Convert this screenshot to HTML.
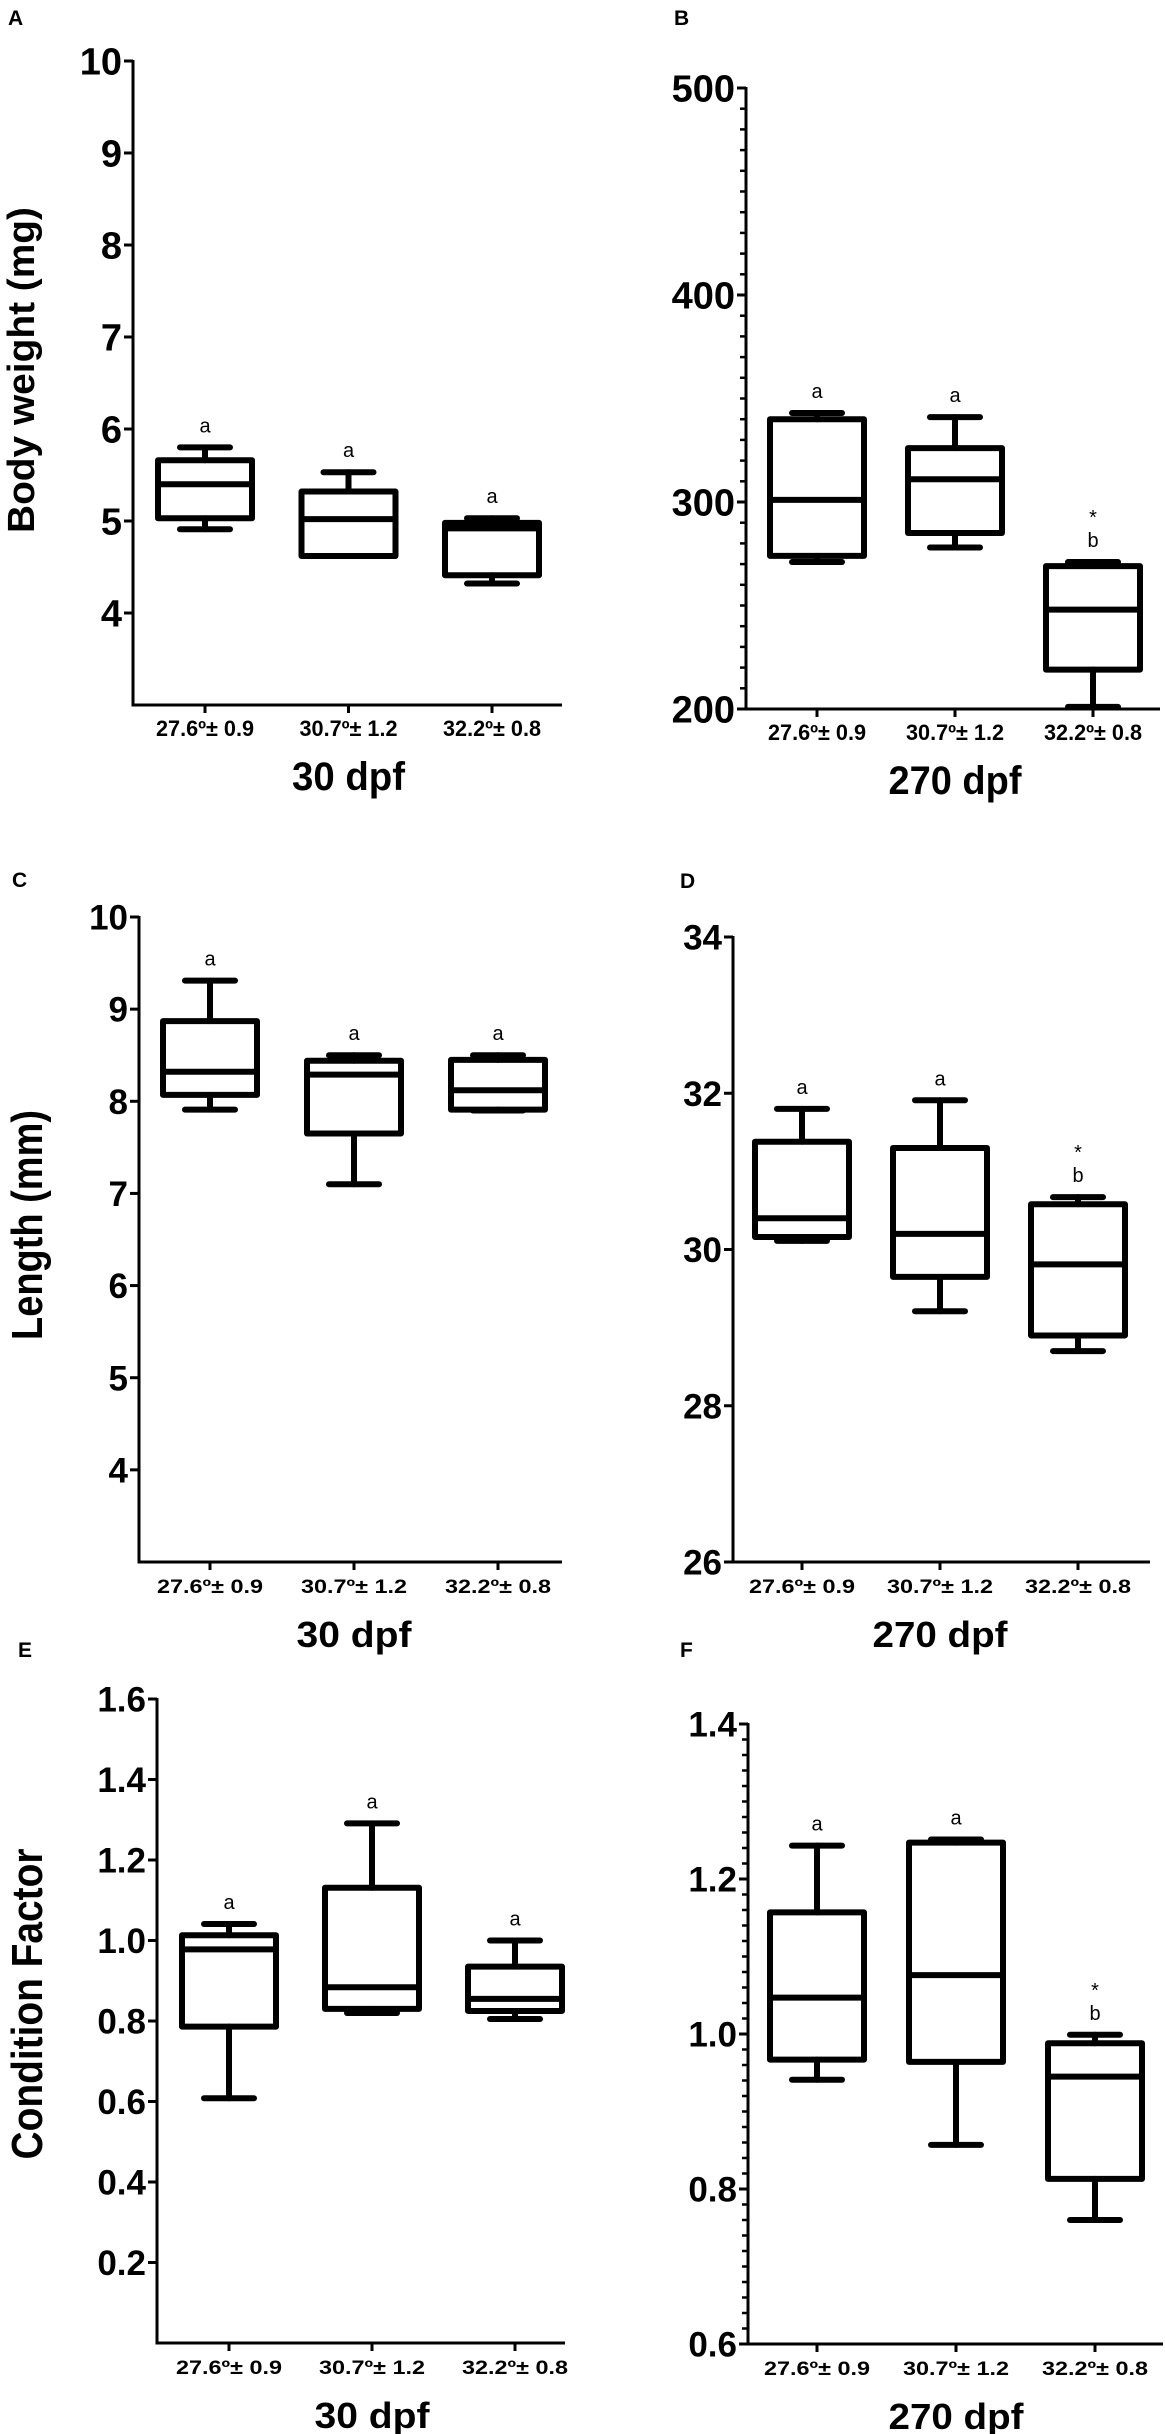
<!DOCTYPE html>
<html><head><meta charset="utf-8"><title>Box plots</title>
<style>
html,body{margin:0;padding:0;background:#fff;}
svg{display:block;}
text{font-family:"Liberation Sans",Arial,sans-serif;fill:#000;}
.narrow{font-family:"Liberation Sans Narrow","Liberation Sans",Arial,sans-serif;}
</style></head>
<body>
<svg id="fig" width="1165" height="2434" viewBox="0 0 1165 2434" xmlns="http://www.w3.org/2000/svg"></svg>
<script>
// ---- shared ----
const categories = ["27.6º± 0.9", "30.7º± 1.2", "32.2º± 0.8"];

// ---- Panel A: body weight 30 dpf ----
const A_max = [5.80, 5.53, 5.03];
const A_q3  = [5.66, 5.32, 4.98];
const A_med = [5.40, 5.02, 4.92];
const A_q1  = [5.03, 4.62, 4.41];
const A_min = [4.91, 4.62, 4.32];
const A_marks = ["a", "a", "a"];
const A_ticks = [4, 5, 6, 7, 8, 9, 10];

// ---- Panel B: body weight 270 dpf ----
const B_max = [343, 341, 271];
const B_q3  = [340, 326, 269];
const B_med = [301, 311, 248];
const B_q1  = [274, 285, 219];
const B_min = [271, 278, 201];
const B_marks = ["a", "a", "b*"];
const B_ticks = [200, 300, 400, 500];

// ---- Panel C: length 30 dpf ----
const C_max = [9.31, 8.50, 8.50];
const C_q3  = [8.87, 8.44, 8.45];
const C_med = [8.32, 8.29, 8.12];
const C_q1  = [8.07, 7.65, 7.91];
const C_min = [7.91, 7.10, 7.90];
const C_marks = ["a", "a", "a"];
const C_ticks = [4, 5, 6, 7, 8, 9, 10];

// ---- Panel D: length 270 dpf ----
const D_max = [31.80, 31.91, 30.67];
const D_q3  = [31.38, 31.30, 30.58];
const D_med = [30.40, 30.20, 29.81];
const D_q1  = [30.16, 29.65, 28.90];
const D_min = [30.11, 29.21, 28.70];
const D_marks = ["a", "a", "b*"];
const D_ticks = [26, 28, 30, 32, 34];

// ---- Panel E: condition factor 30 dpf ----
const E_max = [1.041, 1.291, 1.000];
const E_q3  = [1.013, 1.131, 0.935];
const E_med = [0.978, 0.884, 0.855];
const E_q1  = [0.786, 0.830, 0.825];
const E_min = [0.608, 0.820, 0.805];
const E_marks = ["a", "a", "a"];
const E_ticks = [0.2, 0.4, 0.6, 0.8, 1.0, 1.2, 1.4, 1.6];
const E_tickLabels = ["0.2", "0.4", "0.6", "0.8", "1.0", "1.2", "1.4", "1.6"];

// ---- Panel F: condition factor 270 dpf ----
const F_max = [1.243, 1.251, 0.999];
const F_q3  = [1.157, 1.247, 0.988];
const F_med = [1.047, 1.076, 0.945];
const F_q1  = [0.967, 0.964, 0.813];
const F_min = [0.941, 0.857, 0.760];
const F_marks = ["a", "a", "b*"];
const F_ticks = [0.6, 0.8, 1.0, 1.2, 1.4];
const F_tickLabels = ["0.6", "0.8", "1.0", "1.2", "1.4"];

const NS = "http://www.w3.org/2000/svg";
const svg = document.getElementById("fig");
function mk(tag, attrs, parent, txt) {
  const e = document.createElementNS(NS, tag);
  for (const k in attrs) e.setAttribute(k, attrs[k]);
  if (txt !== undefined) e.textContent = txt;
  (parent || svg).appendChild(e);
  return e;
}

function panel(cfg) {
  const g = mk("g", {});
  
  
  const y = v => cfg.yTop + (cfg.vTop - v) / (cfg.vTop - cfg.vBot) * (cfg.yBot - cfg.yTop);
  const x = i => cfg.ax + cfg.x0 + i * cfg.dx;
  const cls = cfg.narrow ? "narrow" : "";
  const L = mk("text", {x: cfg.letterX, y: cfg.letterY, "font-size": 21, "font-weight": "bold"}, g, cfg.letter);
  
  
  const ya = mk("line", {x1: cfg.ax, y1: y(cfg.vTop) - 1, x2: cfg.ax, y2: cfg.yBot + 1.5, stroke: "#000", "stroke-width": 3}, g);
  
  
  const xa = mk("line", {x1: cfg.ax - 1.5, y1: cfg.yBot, x2: cfg.xEnd, y2: cfg.yBot, stroke: "#000", "stroke-width": 3}, g);
  
  
  if (cfg.minor) {
    const n = Math.round((cfg.vTop - cfg.vBot) / cfg.minor);
    for (let k = 0; k <= n; k++) {
      const v = cfg.vBot + k * cfg.minor;
      const mt = mk("line", {x1: cfg.ax - 6, y1: y(v), x2: cfg.ax, y2: y(v), stroke: "#000", "stroke-width": 2.5}, g);
      
      
    }
  }
  cfg.ticks.forEach((v, i) => {
    const t = mk("line", {x1: cfg.ax - 9, y1: y(v), x2: cfg.ax, y2: y(v), stroke: "#000", "stroke-width": 3}, g);
    
    
    const lab = cfg.tickLabels ? cfg.tickLabels[i] : String(v);
    const tl = mk("text", {x: cfg.ax - 11, y: y(v) + cfg.tickFs * 0.36, "font-size": cfg.tickFs, "font-weight": "bold", "text-anchor": "end", class: cls}, g, lab);
    
    
  });
  if (cfg.yTitle) {
    const yt = mk("text", {x: 0, y: 0, "font-size": cfg.yTitleFs, "font-weight": "bold", "text-anchor": "middle",
      class: "narrow", textLength: cfg.yTitleLen, lengthAdjust: "spacingAndGlyphs",
      transform: `translate(${cfg.yTitleX},${cfg.yTitleY}) rotate(-90)`}, g, cfg.yTitle);
    
    
  }
  categories.forEach((c, i) => {
    const t = mk("line", {x1: x(i), y1: cfg.yBot, x2: x(i), y2: cfg.yBot + 8, stroke: "#000", "stroke-width": 3}, g);
    
    
    const tl = mk("text", {x: x(i), y: cfg.yBot + 31, "font-size": cfg.narrow ? 22 : 19, "font-weight": "bold", "text-anchor": "middle", class: cls, textLength: cfg.narrow ? 98 : 106, lengthAdjust: "spacingAndGlyphs"}, g, c);
    
    
  });
  const xt = mk("text", {x: cfg.ax + cfg.x0 + cfg.dx, y: cfg.yBot + 85, "font-size": cfg.narrow ? 40 : 36, "font-weight": "bold", "text-anchor": "middle", class: cls, textLength: cfg.xTitleLen, lengthAdjust: "spacingAndGlyphs"}, g, cfg.xTitle);
  
  
  const bw = 94, cw = 50;
  for (let i = 0; i < 3; i++) {
    const bg = mk("g", {stroke: "#000", "stroke-width": 6, fill: "none", "stroke-linecap": "round", "stroke-linejoin": "round"}, g);
    
    
    const cx = x(i);
    const wTop = y(cfg.max[i]), q3 = y(cfg.q3[i]), md = y(cfg.med[i]), q1 = y(cfg.q1[i]), wBot = y(cfg.min[i]);
    mk("line", {x1: cx, y1: wTop, x2: cx, y2: q3}, bg);
    mk("line", {x1: cx - cw / 2, y1: wTop, x2: cx + cw / 2, y2: wTop}, bg);
    mk("line", {x1: cx, y1: q1, x2: cx, y2: wBot}, bg);
    mk("line", {x1: cx - cw / 2, y1: wBot, x2: cx + cw / 2, y2: wBot}, bg);
    mk("rect", {x: cx - bw / 2, y: q3, width: bw, height: Math.max(q1 - q3, 0.1), "stroke-linecap": "butt"}, bg);
    mk("line", {x1: cx - bw / 2, y1: md, x2: cx + bw / 2, y2: md, "stroke-linecap": "butt"}, bg);
    const m = cfg.marks[i];
    if (m === "b*") {
      const b = mk("text", {x: cx, y: wTop - 15, "font-size": 20, "text-anchor": "middle"}, g, "b");
      
      
      const s = mk("text", {x: cx, y: wTop - 38, "font-size": 20, "text-anchor": "middle"}, g, "*");
      
      
    } else {
      const a = mk("text", {x: cx, y: wTop - 15, "font-size": 20, "text-anchor": "middle"}, g, m);
      
      
    }
  }
}

panel({id: "a", letter: "A", letterX: 8, letterY: 25, ax: 133, x0: 72, dx: 143.5, xEnd: 562,
  vTop: 10, vBot: 3, yTop: 61, yBot: 705, ticks: A_ticks, tickFs: 38, narrow: true,
  yTitle: "Body weight (mg)", yTitleX: 34, yTitleY: 370, yTitleFs: 38, yTitleLen: 326,
  xTitle: "30 dpf", xTitleLen: 113, max: A_max, q3: A_q3, med: A_med, q1: A_q1, min: A_min, marks: A_marks});
panel({id: "b", letter: "B", letterX: 674, letterY: 25, ax: 746, x0: 71, dx: 138, xEnd: 1160,
  vTop: 500, vBot: 200, yTop: 88, yBot: 709, ticks: B_ticks, tickFs: 38, narrow: true, minor: 10,
  xTitle: "270 dpf", xTitleLen: 133, max: B_max, q3: B_q3, med: B_med, q1: B_q1, min: B_min, marks: B_marks});
panel({id: "c", letter: "C", letterX: 12, letterY: 887, ax: 139, x0: 71, dx: 144, xEnd: 562,
  vTop: 10, vBot: 3, yTop: 917, yBot: 1562, ticks: C_ticks, tickFs: 35,
  yTitle: "Length (mm)", yTitleX: 42, yTitleY: 1225, yTitleFs: 44, yTitleLen: 230,
  xTitle: "30 dpf", xTitleLen: 115, max: C_max, q3: C_q3, med: C_med, q1: C_q1, min: C_min, marks: C_marks});
panel({id: "d", letter: "D", letterX: 680, letterY: 888, ax: 733, x0: 69, dx: 138, xEnd: 1150,
  vTop: 34, vBot: 26, yTop: 937, yBot: 1562, ticks: D_ticks, tickFs: 35,
  xTitle: "270 dpf", xTitleLen: 135, max: D_max, q3: D_q3, med: D_med, q1: D_q1, min: D_min, marks: D_marks});
panel({id: "e", letter: "E", letterX: 18, letterY: 1657, ax: 157, x0: 72, dx: 143, xEnd: 565,
  vTop: 1.6, vBot: 0, yTop: 1699, yBot: 2343, ticks: E_ticks, tickLabels: E_tickLabels, tickFs: 35,
  yTitle: "Condition Factor", yTitleX: 42, yTitleY: 2004, yTitleFs: 44, yTitleLen: 311,
  xTitle: "30 dpf", xTitleLen: 115, max: E_max, q3: E_q3, med: E_med, q1: E_q1, min: E_min, marks: E_marks});
panel({id: "f", letter: "F", letterX: 680, letterY: 1657, ax: 748, x0: 69, dx: 139, xEnd: 1163,
  vTop: 1.4, vBot: 0.6, yTop: 1724, yBot: 2344, ticks: F_ticks, tickLabels: F_tickLabels, tickFs: 35, minor: 0.02,
  xTitle: "270 dpf", xTitleLen: 135, max: F_max, q3: F_q3, med: F_med, q1: F_q1, min: F_min, marks: F_marks});
</script>
</body></html>
